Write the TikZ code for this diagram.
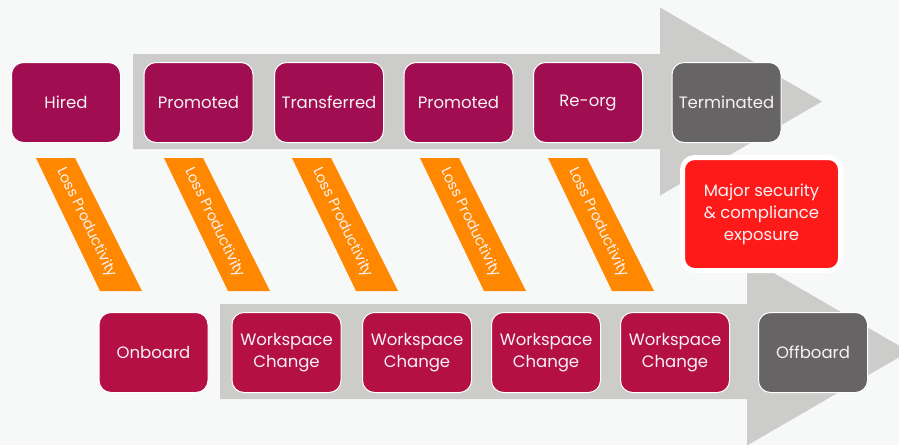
\documentclass[tikz,border=0pt]{standalone}
\usepackage{fontspec}
\setmainfont{Poppins}
\usepackage{tikz}
\usetikzlibrary{positioning}

\definecolor{bgpaper}{HTML}{F7F8F8}
\definecolor{shaftgray}{HTML}{CCCCCA}
\definecolor{plum}{HTML}{A00D50}
\definecolor{crimson}{HTML}{B51045}
\definecolor{endgray}{HTML}{666464}
\definecolor{alarm}{HTML}{FF1A1A}
\definecolor{lossorange}{HTML}{FF8800}
\definecolor{softwhite}{HTML}{F6F2F4}

\begin{document}
\begin{tikzpicture}[x=1pt,y=-1pt,
    event/.style={rectangle,rounded corners=12pt,draw=white,line width=1pt,
                  minimum width=109pt,minimum height=80pt,text=softwhite,align=center,
                  font=\fontsize{16.5}{22}\selectfont},
    career/.style={event,fill=plum},
    desk/.style={event,fill=crimson},
    final/.style={event,fill=endgray},
    exposure/.style={event,fill=alarm,line width=5pt,minimum width=158pt,minimum height=113pt},
    band/.style={fill=lossorange},
    bandtext/.style={text=softwhite,rotate=-64,inner sep=1pt,font=\fontsize{14.5}{16}\selectfont}]

   % Background and the two timeline arrows
      \fill[bgpaper] (0,0) rectangle (899,445);
      \useasboundingbox (0,0) rectangle (899,445);
      \fill[shaftgray] (133,54) -- (660,54) -- (660,7.5) -- (822,101.5) -- (660,195.5)
                       -- (660,149) -- (133,149) -- cycle;
      \fill[shaftgray] (220,304) -- (747,304) -- (747,257.5) -- (909,351.5) -- (747,445.5)
                       -- (747,399) -- (220,399) -- cycle;

   % Loss of productivity bands
      \fill[band] (36,158)  -- (75,158)  -- (142,291) -- (100,291) -- cycle;
      \fill[band] (164,158) -- (203,158) -- (270,291) -- (228,291) -- cycle;
      \fill[band] (292,158) -- (331,158) -- (398,291) -- (356,291) -- cycle;
      \fill[band] (420,158) -- (459,158) -- (526,291) -- (484,291) -- cycle;
      \fill[band] (548,158) -- (587,158) -- (654,291) -- (612,291) -- cycle;
      \node[bandtext] (loss1) at (86.5,223)  {Loss Productivity};
      \node[bandtext] (loss2) at (214.5,223) {Loss Productivity};
      \node[bandtext] (loss3) at (342.5,223) {Loss Productivity};
      \node[bandtext] (loss4) at (470.5,223) {Loss Productivity};
      \node[bandtext] (loss5) at (598.5,223) {Loss Productivity};

   % HR events
      \node[career] (hired)  at (66,102.5)    {Hired};
      \node[career] (promo)  at (198.5,102.5) {Promoted};
      \node[career] (trans)  at (329,102.5)   {Transferred};
      \node[career] (promob) at (458.5,102.5) {Promoted};
      \node[career] (reorg)  at (588,102.5)   {Re-org};
      \node[final]  (term)   at (726.5,102.5) {Terminated};

   % Workspace events
      \node[desk]  (onb)  at (153.5,352.5) {Onboard};
      \node[desk]  (wsa)  at (286.5,352.5) {Workspace\\Change};
      \node[desk]  (wsb)  at (417,352.5)   {Workspace\\Change};
      \node[desk]  (wsc)  at (546,352.5)   {Workspace\\Change};
      \node[desk]  (wsd)  at (675,352.5)   {Workspace\\Change};
      \node[final] (offb) at (813,352.5)   {Offboard};

      \node[exposure] (risk) at (761.5,214) {Major security\\\& compliance\\exposure};
\end{tikzpicture}
\end{document}
